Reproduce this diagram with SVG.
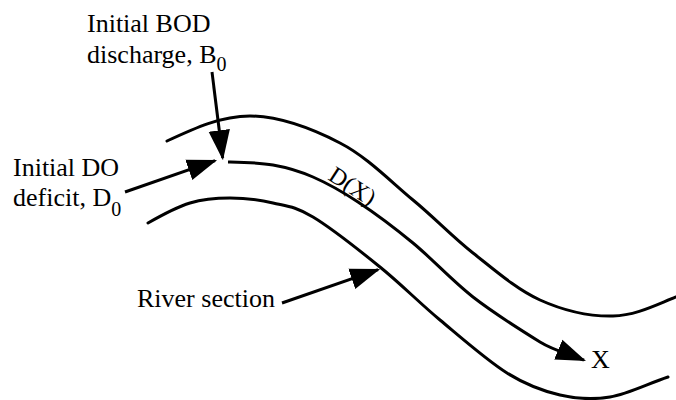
<svg xmlns="http://www.w3.org/2000/svg" width="676" height="400" viewBox="0 0 676 400">
<style>
.bank{fill:none;stroke:#000;stroke-width:3;stroke-linecap:round}
.arr{fill:none;stroke:#000;stroke-width:3;marker-end:url(#ah)}
.lbl{font-family:'Liberation Serif','Times New Roman','DejaVu Serif',serif;font-size:26px;fill:#000}
.sub{font-size:20px}
</style>
<defs>
<marker id="ah" markerUnits="userSpaceOnUse" markerWidth="30" markerHeight="22" viewBox="0 0 28 20" refX="26" refY="10" orient="auto">
<path d="M0,0 L28,10 L0,20 z" fill="#000"/>
</marker>
</defs>
<g id="river">
<path class="bank" d="M167,141 C195,128 221,116 250,116 C278.8,116.3 312.8,129 340,143 C367.2,157 390.8,181.7 413,200 C435.2,218.3 451.8,236.3 473,253 C494.2,269.7 516.7,289.5 540,300 C563.3,310.5 590.3,316.5 613,316 C635.7,315.5 655,305.3 676,297"/>
<path class="bank" d="M148,223 C162,215 176.3,207.2 190,203 C203.7,198.8 216.2,198 230,198 C243.8,198 259.2,199.8 273,203 C286.8,206.2 295.2,206.3 313,217 C330.8,227.7 358.8,249.8 380,267 C401.2,284.2 418.8,302.3 440,320 C461.2,337.7 487,360.5 507,373 C527,385.5 542.8,391 560,395 C577.2,399 592,400 610,397 C628,394 648.7,383.3 668,377"/>
</g>
<g id="connectors">
<path id="flow" class="arr" d="M228,162 C243,162.3 258.8,162.5 273,165 C287.2,167.5 298.8,170.8 313,177 C327.2,183.2 341.3,191 358,202 C374.7,213 393.8,227.2 413,243 C432.2,258.8 451.8,280.5 473,297 C494.2,313.5 525.8,333.2 540,342 C554,350.7 569,354 584,360.2"/>
<path id="bod-arrow" class="arr" d="M212,72 L222.7,158"/>
<path id="do-arrow" class="arr" d="M125,192 L215.1,160.7"/>
<path id="section-arrow" class="arr" d="M282,303 L378.1,269.7"/>
</g>
<g id="label-bod" class="lbl" font-family="Liberation Serif, serif">
<text x="87" y="32">Initial BOD</text>
<text x="87" y="63">discharge, B<tspan class="sub" dy="8">0</tspan></text>
</g>
<g id="label-do" class="lbl" font-family="Liberation Serif, serif">
<text x="13" y="176">Initial DO</text>
<text x="13" y="206">deficit, D<tspan class="sub" dy="10">0</tspan></text>
</g>
<g id="label-dx" class="lbl" font-family="Liberation Serif, serif">
<text transform="translate(327,179) rotate(33)" style="font-size:24px">D(X)</text>
</g>
<g id="label-section" class="lbl" font-family="Liberation Serif, serif">
<text x="137" y="307">River section</text>
</g>
<g id="label-x" class="lbl" font-family="Liberation Serif, serif">
<text x="591" y="368">X</text>
</g>
</svg>
